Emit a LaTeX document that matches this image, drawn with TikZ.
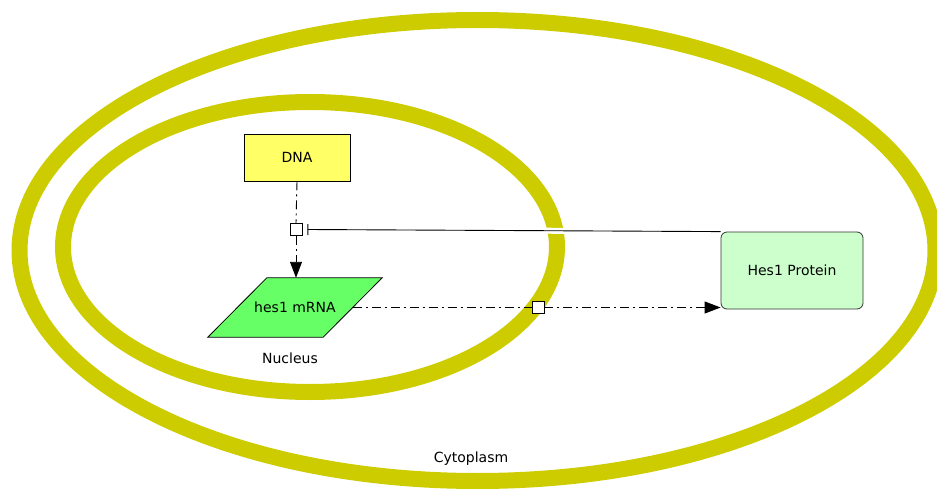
\documentclass[tikz,border=0pt]{standalone}
\usepackage{fontspec}
\setmainfont{DejaVu Sans}
\usetikzlibrary{arrows.meta, calc}

\definecolor{compartment}{HTML}{CCCC00}
\definecolor{dnafill}{HTML}{FFFF66}
\definecolor{mrnafill}{HTML}{66FF66}
\definecolor{protfill}{HTML}{CCFFCC}

\begin{document}
\begin{tikzpicture}[x=1pt, y=-1pt, font=\fontsize{14}{16}\selectfont,
    membrane/.style={draw=compartment, line width=16pt},
    species/.style={draw=black, line width=0.8pt, inner sep=0pt},
    proc/.style={draw=black, fill=white, line width=0.9pt, minimum size=12pt, inner sep=0pt},
    flow/.style={line width=0.9pt, dash pattern=on 9pt off 4pt on 2pt off 4pt},
    prod/.style={flow, -{Triangle[length=16pt, width=12pt]}},
    inhib/.style={line width=0.9pt, -{Bar[width=11pt]}}]
  \useasboundingbox (0,0) rectangle (937,489);
  % --- compartments ---
  \draw[membrane] (477.5,250.5) ellipse [x radius=458pt, y radius=230.5pt];
  \draw[membrane] (310,247) ellipse [x radius=247pt, y radius=145pt];
  \node (cyto) at (471,459) {Cytoplasm};
  \node (nuc) at (290,358) {Nucleus};
  % --- species ---
  \node[species, fill=dnafill, minimum width=106pt, minimum height=47pt]
    (dna) at (297,157.5) {DNA};
  \node[inner sep=0pt, minimum width=115pt, minimum height=59pt] (mrna) at (295,307.5) {};
  \draw[species, fill=mrnafill] ([xshift=-29.5pt]mrna.south west)
    -- ([xshift=29.5pt]mrna.north west) -- ([xshift=29.5pt]mrna.north east)
    -- ([xshift=-29.5pt]mrna.south east) -- cycle;
  \node (mrnatext) at (mrna) {hes1 mRNA};
  \node[species, draw=black!80, fill=protfill, rounded corners=6pt,
    minimum width=142pt, minimum height=77pt] (hes1) at (792,270.5) {Hes1 Protein};
  % --- processes ---
  \node[proc] (p1) at (296,229.5) {};
  \node[proc] (p2) at (538,307.5) {};
  % --- transcription ---
  \draw[flow] (dna.south) -- (p1.north);
  \draw[prod] (p1.south) -- (p1.south |- mrna.north);
  % --- translation ---
  \draw[flow] (mrna.east) -- (p2.west);
  \draw[prod] (p2.east) -- (p2.east -| hes1.west);
  % --- repression ---
  \draw[white, line width=6pt] ($(p1.east)!0.5!(hes1.north west)$)
    -- ($(p1.east)!0.7!(hes1.north west)$);
  \draw[inhib] (hes1.north west) -- ([xshift=5pt]p1.east);
\end{tikzpicture}
\end{document}
